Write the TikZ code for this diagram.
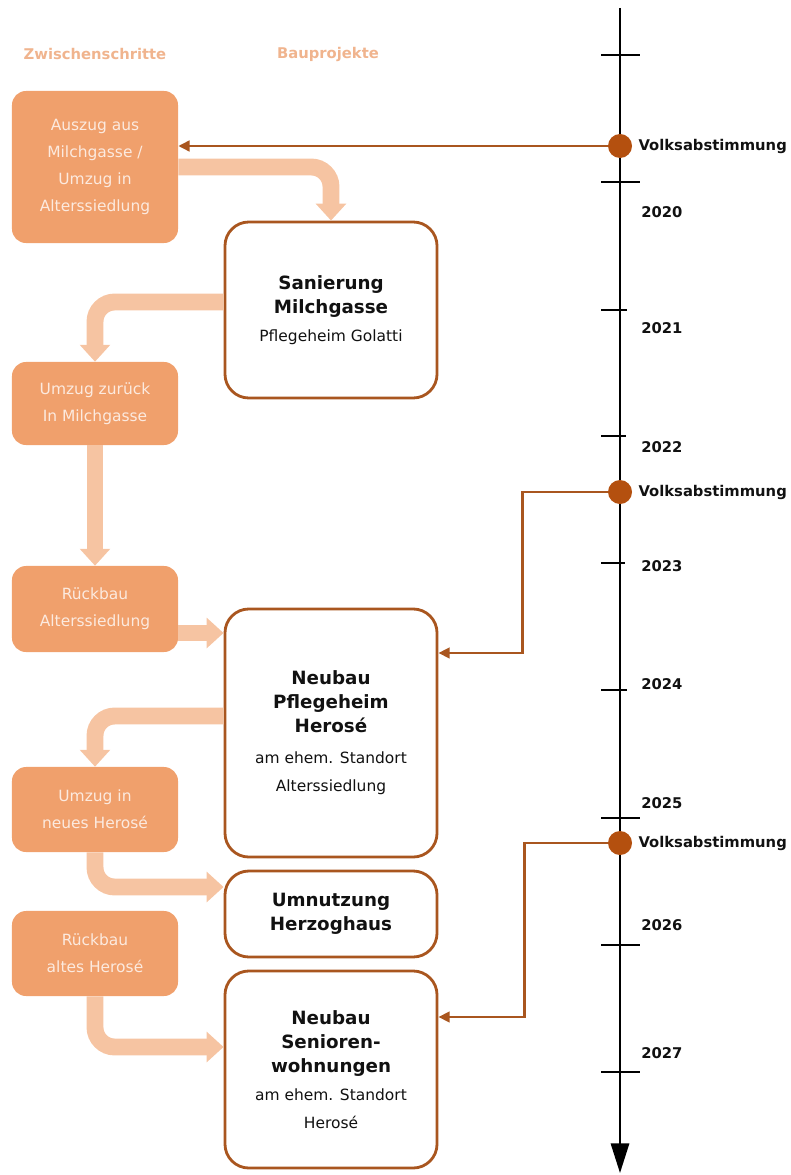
\documentclass[tikz,border=0pt]{standalone}
\usepackage{fontspec}
\setmainfont{DejaVu Sans}
\usepackage{xcolor}
\definecolor{vzink}{HTML}{111111}
\definecolor{vzbrown}{HTML}{A9561F}
\definecolor{vzdotcol}{HTML}{B4500F}
\definecolor{vzstepfill}{HTML}{F0A06C}
\definecolor{vzsteptext}{HTML}{FCEADF}
\definecolor{vzflowcol}{HTML}{F6C4A2}
\definecolor{vzheadcol}{HTML}{F0B48E}
\usetikzlibrary{arrows.meta,positioning,calc}
\newcommand{\vztitle}[1]{{\fontsize{13}{18}\selectfont\bfseries #1}}
\tikzset{
  vzstep/.style ={rectangle, rounded corners=10pt, fill=vzstepfill, text=vzsteptext,
                  minimum width=4.15cm, align=center, inner sep=2pt,
                  font=\fontsize{11}{19}\selectfont},
  vzproj/.style ={rectangle, rounded corners=17pt, draw=vzbrown, line width=2pt, fill=white,
                  minimum width=5.3cm, align=center, text=vzink,
                  font=\fontsize{11}{20}\selectfont},
  vzflow/.style ={draw=vzflowcol, line width=12pt, rounded corners=14pt,
                  -{Triangle[length=12pt,width=21pt]}},
  vzvote/.style ={draw=vzbrown, line width=2pt, -{Triangle[length=8pt,width=7.5pt]}},
  vzdot/.style  ={circle, fill=vzdotcol, minimum size=0.6cm, inner sep=0pt},
  vzyear/.style ={font=\bfseries\fontsize{10.5}{12}\selectfont, text=vzink, inner sep=0pt},
  vzhead/.style ={font=\bfseries\fontsize{10.5}{12}\selectfont, text=vzheadcol},
  vzaxis/.style ={line width=1.4pt, draw=black, -{Triangle[length=21pt,width=13pt]}},
  vztick/.style ={line width=1.4pt, draw=black},
}
\begin{document}
\begin{tikzpicture}[x=0.025cm, y=-0.025cm]
  \useasboundingbox (0,0) rectangle (790,1175);
  \node[vzhead] (hzw) at (95,54) {Zwischenschritte};
  \node[vzhead] (hbau) at (328,54) {Bauprojekte};
  % Zeitachse
  \coordinate (tltop) at (620,8);
  \coordinate (tlend) at (620,1173);
  \draw[vzaxis] (tltop) -- (tlend);
  \foreach \y/\r/\yr/\ly in {55/640//55, 182/640/2020/212, 310/627/2021/328, 436/626/2022/447,
                             563/625/2023/566, 690/627/2024/684, 818/640/2025/803,
                             945/640/2026/925, 1072/640/2027/1053}{
    \draw[vztick] (601,\y) -- (\r,\y);
    \node[vzyear, anchor=west] at (641,\ly) {\yr};
  }
  \node[vzdot] (v1) at (620,146) {};
  \node[vzdot] (v2) at (620,492) {};
  \node[vzdot] (v3) at (620,843) {};
  \node[vzyear, right=0.15cm of v1] (vl1) {Volksabstimmung};
  \node[vzyear, right=0.15cm of v2] (vl2) {Volksabstimmung};
  \node[vzyear, right=0.15cm of v3] (vl3) {Volksabstimmung};
  % Zwischenschritte
  \node[vzstep, minimum height=3.8cm] (zw1) at (95,167) {Auszug aus\\Milchgasse /\\Umzug in\\Alterssiedlung};
  \node[vzstep, minimum height=2.075cm] (zw2) at (95,403.5) {Umzug zurück\\In Milchgasse};
  \node[vzstep, minimum height=2.15cm] (zw3) at (95,609) {Rückbau\\Alterssiedlung};
  \node[vzstep, minimum height=2.125cm] (zw4) at (95,809.5) {Umzug in\\neues Herosé};
  \node[vzstep, minimum height=2.125cm] (zw5) at (95,953.5) {Rückbau\\altes Herosé};
  % Bauprojekte
  \node[vzproj, minimum height=4.4cm] (san) at (331,310)
    {\vztitle{Sanierung}\\[-3pt]\vztitle{Milchgasse}\\Pflegeheim Golatti};
  \node[vzproj, minimum height=6.2cm] (pfl) at (331,733)
    {\vztitle{Neubau}\\[-3pt]\vztitle{Pflegeheim}\\[-3pt]\vztitle{Herosé}\\[2pt]am ehem. Standort\\Alterssiedlung};
  \node[vzproj, minimum height=2.15cm] (umn) at (331,914)
    {\vztitle{Umnutzung}\\[-3pt]\vztitle{Herzoghaus}};
  \node[vzproj, minimum height=4.925cm] (sen) at (331,1069.5)
    {\vztitle{Neubau}\\[-3pt]\vztitle{Senioren-}\\[-3pt]\vztitle{wohnungen}\\am ehem. Standort\\Herosé};
  % Abfolge
  \draw[vzflow] (zw1.east) -| (san.north);
  \draw[vzflow] ([yshift=0.2cm]san.west) -| (zw2.north);
  \draw[vzflow] (zw2.south) -- (zw3.north);
  \coordinate (f3) at ([yshift=-0.6cm]zw3.east);
  \draw[vzflow] (f3) -- (f3 -| pfl.west);
  \draw[vzflow] ([yshift=0.425cm]pfl.west) -| (zw4.north);
  \draw[vzflow] (zw4.south) |- ([yshift=0.675cm]umn.west);
  \draw[vzflow] (zw5.south) |- ([yshift=0.5625cm]sen.west);
  % Abstimmungen
  \draw[vzvote] (v1.west) -- (v1 -| zw1.east);
  \draw[vzvote] (v2.west) -- ++(-85,0) |- ([yshift=2cm]pfl.east);
  \draw[vzvote] (v3.west) -- ++(-83,0) |- ([yshift=1.3125cm]sen.east);
\end{tikzpicture}
\end{document}
